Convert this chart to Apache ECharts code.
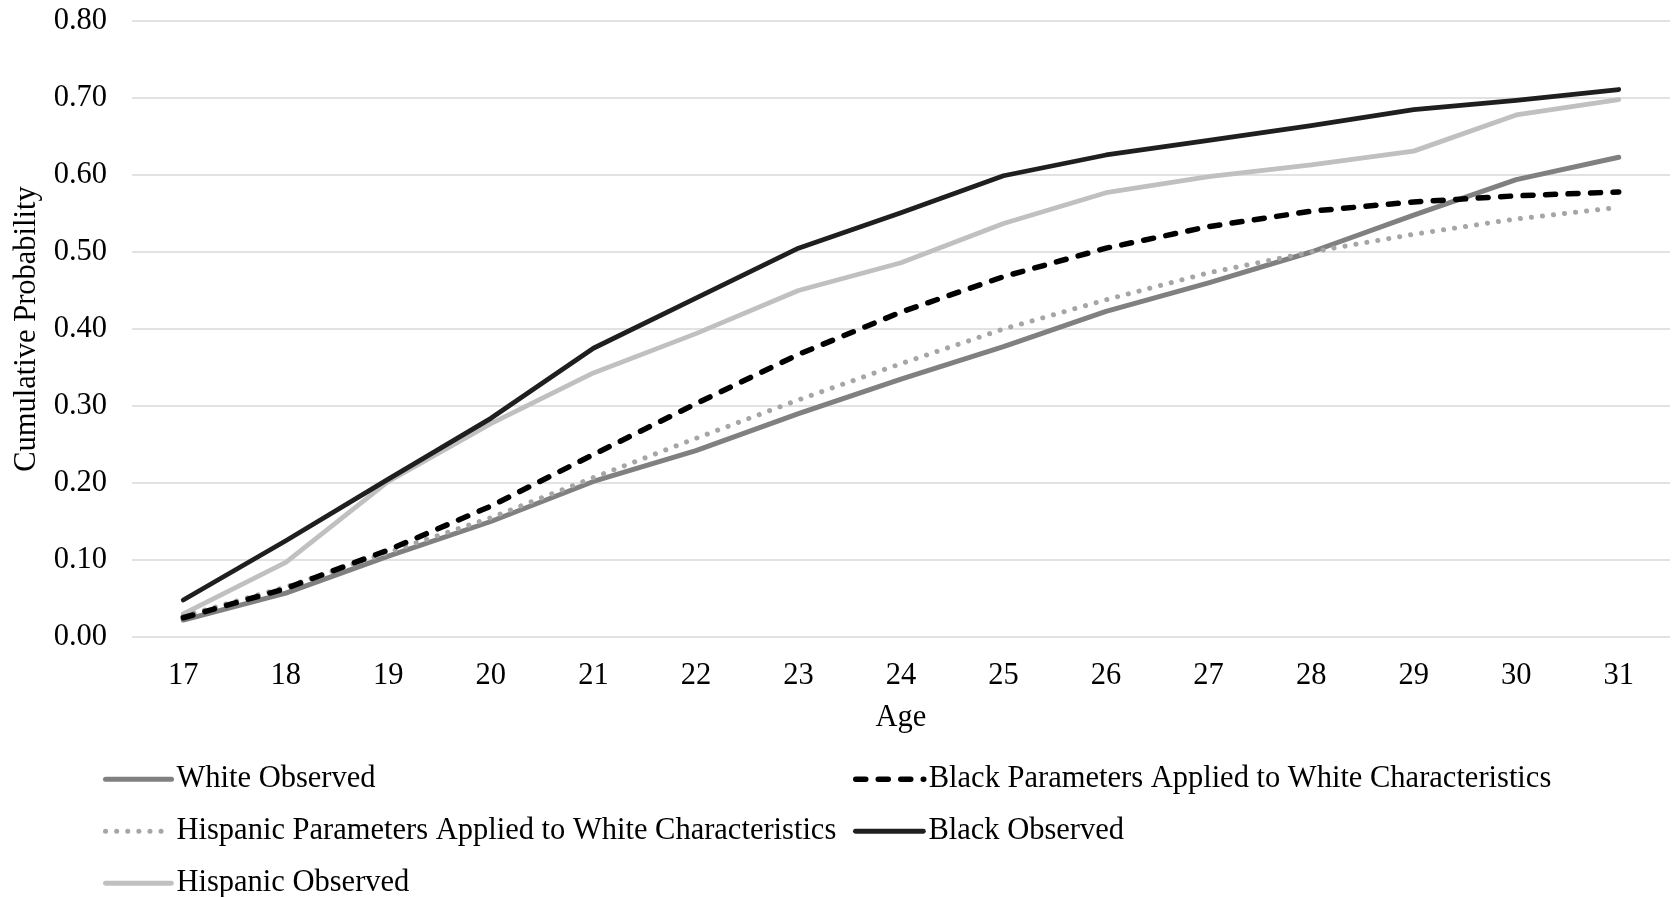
<!DOCTYPE html>
<html>
<head>
<meta charset="utf-8">
<script src="https://cdn.jsdelivr.net/npm/echarts@6/dist/echarts.min.js"></script>
<style>
html,body{margin:0;padding:0;background:#fff;}
#chart{width:1673px;height:897px;}
</style>
</head>
<body>
<div id="chart"></div>
<script>
const ages = ['17','18','19','20','21','22','23','24','25','26','27','28','29','30','31'];
const whiteObserved = [0.022,0.057,0.105,0.150,0.202,0.242,0.290,0.335,0.377,0.423,0.460,0.500,0.548,0.594,0.623];
const blackParamsWhite = [0.025,0.063,0.113,0.170,0.237,0.303,0.367,0.422,0.468,0.505,0.533,0.553,0.565,0.573,0.578];
const hispanicParamsWhite = [0.027,0.065,0.110,0.155,0.207,0.258,0.308,0.355,0.400,0.438,0.473,0.500,0.523,0.543,0.558];
const blackObserved = [0.048,0.125,0.205,0.284,0.375,0.440,0.505,0.551,0.599,0.626,0.645,0.664,0.685,0.697,0.711];
const hispanicObserved = [0.030,0.097,0.202,0.277,0.343,0.394,0.450,0.486,0.537,0.577,0.598,0.613,0.631,0.678,0.698];
const yTicks = [0, 0.1, 0.2, 0.3, 0.4, 0.5, 0.6, 0.7, 0.8];

const FONT = '"Liberation Serif", "Times New Roman", serif';
const FS = 30.5;
const chart = echarts.init(document.getElementById('chart'), null, {renderer:'canvas'});

const styles = {
  'White Observed': {color:'#808080', width:5, type:'solid', z:2},
  'Black Parameters Applied to White Characteristics': {color:'#000000', width:5.5, type:[10,12.5], z:4},
  'Hispanic Parameters Applied to White Characteristics': {color:'#a6a6a6', width:5, type:[0.1,11], z:3},
  'Black Observed': {color:'#1f1f1f', width:4.8, type:'solid', z:5},
  'Hispanic Observed': {color:'#c0c0c0', width:4.8, type:'solid', z:1}
};

function mk(name, data){
  const s = styles[name];
  return {
    name: name, type: 'line', data: data, symbol: 'none', showSymbol: false,
    smooth: false, z: s.z,
    lineStyle: {color: s.color, width: s.width, type: s.type, cap: 'round', join: 'round'},
    itemStyle: {color: s.color},
    emphasis: {disabled: true}
  };
}

function lg(name, left, centerY, w){
  const s = styles[name];
  return {
    left: left, top: centerY - FS/2, padding: 0, itemWidth: w, itemHeight: 14, itemGap: 0,
    selectedMode: false,
    data: [name],
    itemStyle: {opacity: 0, color: 'rgba(0,0,0,0)', borderWidth: 0},
    lineStyle: {width: s.width, type: s.type, cap: 'round', color: s.color},
    textStyle: {fontFamily: FONT, fontSize: FS, color: '#000', padding: [0,0,0,0]}
  };
}

chart.setOption({
  animation: false,
  backgroundColor: '#fff',
  grid: {left: 132, right: 3, top: 21, bottom: 260, containLabel: false},
  legend: [
    lg('White Observed', 103, 779, 66),
    lg('Hispanic Parameters Applied to White Characteristics', 103, 831, 66),
    lg('Hispanic Observed', 103, 883, 66),
    lg('Black Parameters Applied to White Characteristics', 853, 779, 68),
    lg('Black Observed', 853, 831, 68)
  ],
  xAxis: {
    type: 'category', data: ages, boundaryGap: true,
    name: 'Age', nameLocation: 'middle', nameGap: 65,
    nameTextStyle: {fontFamily: FONT, fontSize: FS, color: '#000'},
    axisLine: {show: false}, axisTick: {show: false},
    axisLabel: {fontFamily: FONT, fontSize: FS, color: '#000', margin: 23}
  },
  yAxis: {
    type: 'value', min: 0, max: 0.8, interval: 0.1,
    name: 'Cumulative Probability', nameLocation: 'middle', nameGap: 84,
    nameTextStyle: {fontFamily: FONT, fontSize: FS, color: '#000'},
    axisLine: {show: false}, axisTick: {show: false},
    axisLabel: {fontFamily: FONT, fontSize: FS, color: '#000', margin: 25,
      formatter: function(v){ return v.toFixed(2); }},
    splitLine: {show: true, lineStyle: {color: '#d9d9d9', width: 1.5}}
  },
  series: [
    mk('White Observed', whiteObserved),
    mk('Black Parameters Applied to White Characteristics', blackParamsWhite),
    mk('Hispanic Parameters Applied to White Characteristics', hispanicParamsWhite),
    mk('Black Observed', blackObserved),
    mk('Hispanic Observed', hispanicObserved)
  ]
});
</script>
</body>
</html>
